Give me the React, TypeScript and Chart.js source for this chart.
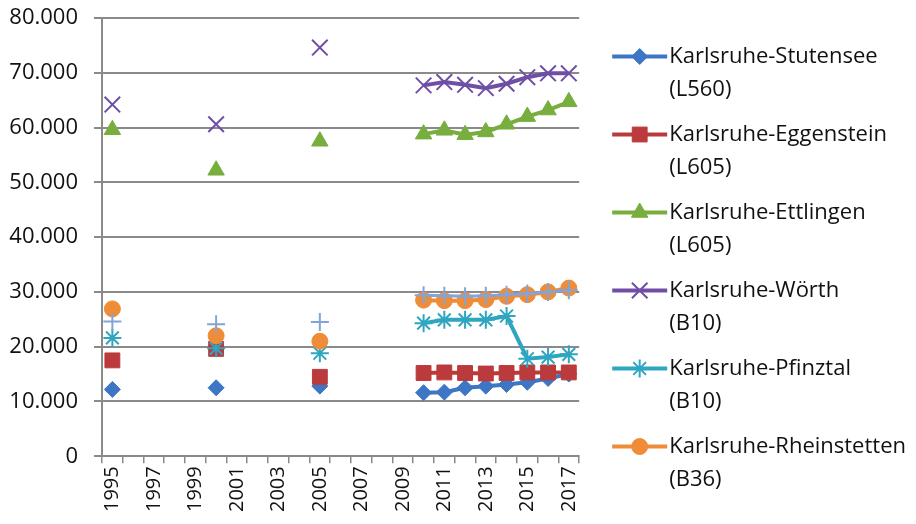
import React, { useEffect, useRef } from 'react';
import { Chart, registerables } from 'chart.js';
import { drawPoint } from 'chart.js/helpers';

Chart.register(...registerables);

const YEARS = ['1995','1996','1997','1998','1999','2000','2001','2002','2003','2004','2005','2006','2007','2008','2009','2010','2011','2012','2013','2014','2015','2016','2017'];
const N = null;

const STUTENSEE = [12200, N, N, N, N, 12500, N, N, N, N, 12800, N, N, N, N, 11600, 11700, 12500, 12800, 13100, 13500, 14200, 15000];
const EGGENSTEIN = [17500, N, N, N, N, 19600, N, N, N, N, 14500, N, N, N, N, 15200, 15300, 15200, 15100, 15200, 15300, 15300, 15300];
const ETTLINGEN = [59600, N, N, N, N, 52200, N, N, N, N, 57500, N, N, N, N, 58800, 59500, 58700, 59200, 60600, 62000, 63200, 64700];
const WOERTH = [64200, N, N, N, N, 60600, N, N, N, N, 74600, N, N, N, N, 67700, 68300, 67800, 67200, 68000, 69200, 69900, 69900];
const PFINZTAL = [21600, N, N, N, N, 19700, N, N, N, N, 18800, N, N, N, N, 24300, 24900, 24900, 24900, 25600, 17800, 18100, 18600];
const RHEINSTETTEN = [26900, N, N, N, N, 22000, N, N, N, N, 21000, N, N, N, N, 28500, 28400, 28400, 28600, 29200, 29500, 30000, 30700];
const UNNAMED = [24600, N, N, N, N, 24100, N, N, N, N, 24500, N, N, N, N, 29400, 29300, 29200, 29300, 29500, 29700, 30000, 30300];

const SERIES_NAMES = ['Karlsruhe-Stutensee', 'Karlsruhe-Eggenstein', 'Karlsruhe-Ettlingen', 'Karlsruhe-Wörth', 'Karlsruhe-Pfinztal', 'Karlsruhe-Rheinstetten', ''];
const SERIES_ROADS = ['(L560)', '(L605)', '(L605)', '(B10)', '(B10)', '(B36)', ''];
const SERIES_DATA = [STUTENSEE, EGGENSTEIN, ETTLINGEN, WOERTH, PFINZTAL, RHEINSTETTEN, UNNAMED];
const Y_TICKS = [0, 10000, 20000, 30000, 40000, 50000, 60000, 70000, 80000];

const COLORS = ['#3c76c4', '#bb3a3c', '#77ae3e', '#6f4fa6', '#2fa6c0', '#ef8c38', '#82a4d8'];
const STYLES = ['rectRot', 'rect', 'triangle', 'crossRot', 'star', 'circle', 'cross'];
const RADII = [8, 10.5, 9.5, 11, 9, 8, 9];
const PBW = [1, 1, 1, 2, 2, 1, 2];
const LINE_W = [4, 4, 4, 4, 4, 4, 3];

const GRID = '#8a8a8a';
const FONT = 'Open Sans';
const LEGEND_FONT = 22;
const LEGEND_BOX = 67;
const LEGEND_BOX_H = 36;

const legendSymbols = {
  id: 'legendSymbols',
  afterDraw(chart: any) {
    const legend = chart.legend;
    if (!legend || !legend.legendHitBoxes) return;
    const ctx = chart.ctx;
    legend.legendItems.forEach((item: any, i: number) => {
      const hb = legend.legendHitBoxes[i];
      const di = item.datasetIndex;
      const y = hb.top + LEGEND_BOX_H / 2;
      const x1 = hb.left + LEGEND_BOX + LEGEND_FONT / 2 - 2;
      const x0 = x1 - 55;
      ctx.save();
      ctx.strokeStyle = COLORS[di];
      ctx.lineWidth = LINE_W[di];
      ctx.beginPath();
      ctx.moveTo(x0, y);
      ctx.lineTo(x1, y);
      ctx.stroke();
      ctx.fillStyle = COLORS[di];
      ctx.strokeStyle = COLORS[di];
      ctx.lineWidth = PBW[di];
      drawPoint(ctx, { pointStyle: STYLES[di], radius: RADII[di], borderWidth: PBW[di], rotation: 0 } as any, (x0 + x1) / 2, y);
      ctx.restore();
    });
  },
};

export default function App() {
  const ref = useRef<HTMLCanvasElement | null>(null);
  useEffect(() => {
    if (!ref.current) return;
    const datasets = SERIES_DATA.map((d, i) => ({
      label: SERIES_NAMES[i] ? SERIES_NAMES[i] + ' ' + SERIES_ROADS[i] : 'Serie 7',
      data: d,
      borderColor: COLORS[i],
      backgroundColor: COLORS[i],
      borderWidth: LINE_W[i],
      pointStyle: STYLES[i],
      pointRadius: RADII[i],
      pointBorderWidth: PBW[i],
      pointBackgroundColor: COLORS[i],
      pointBorderColor: COLORS[i],
      spanGaps: false,
      tension: 0,
      order: 10 - i,
    }));
    const chart = new Chart(ref.current, {
      type: 'line',
      data: { labels: YEARS, datasets },
      plugins: [legendSymbols],
      options: {
        responsive: false,
        animation: false,
        devicePixelRatio: 1,
        layout: { padding: { top: 18, left: 0, right: 0, bottom: 9 } },
        plugins: {
          tooltip: { enabled: false },
          legend: {
            position: 'right',
            align: 'center',
            maxWidth: 400,
            labels: {
              boxWidth: LEGEND_BOX,
              boxHeight: LEGEND_BOX_H,
              padding: 12,
              color: '#111',
              font: { family: FONT, size: LEGEND_FONT, lineHeight: 1.5 },
              sort: (a: any, b: any) => a.datasetIndex - b.datasetIndex,
              generateLabels: (c: any) =>
                (Chart.defaults.plugins.legend.labels as any).generateLabels(c)
                  .filter((l: any) => SERIES_NAMES[l.datasetIndex] !== '')
                  .map((l: any) => ({
                    ...l,
                    text: [SERIES_NAMES[l.datasetIndex], SERIES_ROADS[l.datasetIndex]],
                    fillStyle: 'rgba(0,0,0,0)',
                    strokeStyle: 'rgba(0,0,0,0)',
                    lineWidth: 0,
                  })),
            },
          },
        },
        scales: {
          x: {
            type: 'category',
            offset: true,
            grid: { offset: true, drawOnChartArea: false, drawTicks: true, tickLength: 7, color: GRID, lineWidth: 1.5 },
            border: { color: GRID, width: 2 },
            ticks: {
              autoSkip: false,
              maxRotation: 90,
              minRotation: 90,
              padding: 3,
              color: '#111',
              font: { family: FONT, size: 20 },
              callback: function (this: any, v: any, i: number) {
                return i % 2 === 0 ? YEARS[i] : '';
              },
            },
          },
          y: {
            min: 0,
            max: 80000,
            afterBuildTicks: (axis: any) => {
              axis.ticks = Y_TICKS.map((v) => ({ value: v }));
            },
            afterFit: (s: any) => {
              s.paddingTop = 0;
              s.paddingBottom = 0;
              s.width = 102;
            },
            grid: { color: GRID, lineWidth: 2, drawTicks: true, tickLength: 8 },
            border: { color: GRID, width: 2 },
            ticks: {
              padding: 16,
              color: '#111',
              font: { family: FONT, size: 22 },
              callback: (v: any) => (v === 0 ? '0' : v / 1000 + '.000'),
            },
          },
        },
      },
    });
    return () => chart.destroy();
  }, []);
  return (
    <div style={{ position: 'absolute', left: 0, top: 0, width: 916, height: 524, background: '#fff' }}>
      <canvas ref={ref} width={916} height={524} style={{ display: 'block' }} />
    </div>
  );
}
